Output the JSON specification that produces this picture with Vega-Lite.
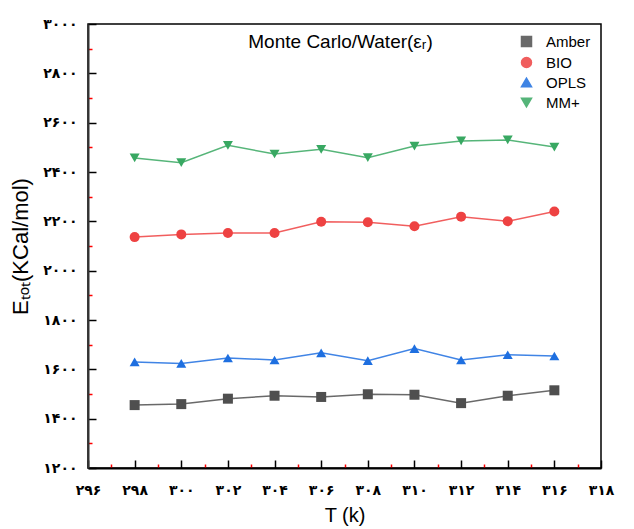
{
  "$schema": "https://vega.github.io/schema/vega-lite/v6.json",
  "width": 513,
  "height": 444,
  "padding": {"left": 9, "top": 17, "right": 5, "bottom": 5},
  "background": "white",
  "config": {
    "view": {"stroke": "black", "strokeWidth": 1.5},
    "font": "Liberation Sans"
  },
  "title": {
    "text": "Monte Carlo/Water(εᵣ)",
    "offset": -35,
    "fontSize": 19,
    "fontWeight": "normal",
    "font": "Liberation Sans",
    "anchor": "middle",
    "dx": -4,
    "color": "black"
  },
  "data": {
    "values": [
      {"series": "Amber", "T": 298, "E": 1455},
      {"series": "Amber", "T": 300, "E": 1459},
      {"series": "Amber", "T": 302, "E": 1481},
      {"series": "Amber", "T": 304, "E": 1493},
      {"series": "Amber", "T": 306, "E": 1488},
      {"series": "Amber", "T": 308, "E": 1499},
      {"series": "Amber", "T": 310, "E": 1497},
      {"series": "Amber", "T": 312, "E": 1463},
      {"series": "Amber", "T": 314, "E": 1493},
      {"series": "Amber", "T": 316, "E": 1515},
      {"series": "BIO", "T": 298, "E": 2136},
      {"series": "BIO", "T": 300, "E": 2147},
      {"series": "BIO", "T": 302, "E": 2153},
      {"series": "BIO", "T": 304, "E": 2153},
      {"series": "BIO", "T": 306, "E": 2198},
      {"series": "BIO", "T": 308, "E": 2196},
      {"series": "BIO", "T": 310, "E": 2180},
      {"series": "BIO", "T": 312, "E": 2219},
      {"series": "BIO", "T": 314, "E": 2200},
      {"series": "BIO", "T": 316, "E": 2240},
      {"series": "OPLS", "T": 298, "E": 1630},
      {"series": "OPLS", "T": 300, "E": 1624},
      {"series": "OPLS", "T": 302, "E": 1646},
      {"series": "OPLS", "T": 304, "E": 1638},
      {"series": "OPLS", "T": 306, "E": 1667},
      {"series": "OPLS", "T": 308, "E": 1635},
      {"series": "OPLS", "T": 310, "E": 1684},
      {"series": "OPLS", "T": 312, "E": 1638},
      {"series": "OPLS", "T": 314, "E": 1659},
      {"series": "OPLS", "T": 316, "E": 1654},
      {"series": "MM+", "T": 298, "E": 2457},
      {"series": "MM+", "T": 300, "E": 2438},
      {"series": "MM+", "T": 302, "E": 2508},
      {"series": "MM+", "T": 304, "E": 2473},
      {"series": "MM+", "T": 306, "E": 2492},
      {"series": "MM+", "T": 308, "E": 2458},
      {"series": "MM+", "T": 310, "E": 2505},
      {"series": "MM+", "T": 312, "E": 2526},
      {"series": "MM+", "T": 314, "E": 2530},
      {"series": "MM+", "T": 316, "E": 2501}
    ]
  },
  "layer": [
    {
      "mark": {"type": "line", "strokeWidth": 1.5, "opacity": 0.85},
      "encoding": {
        "x": {
          "field": "T", "type": "quantitative",
          "scale": {"domain": [296, 318], "nice": false, "zero": false},
          "axis": {
            "orient": "bottom", "values": [297, 299, 301, 303, 305, 307, 309, 311, 313, 315, 317],
            "labels": false, "domain": false, "grid": false, "title": null,
            "tickColor": "#ff0000", "tickSize": -4, "tickWidth": 1.5
          }
        },
        "y": {
          "field": "E", "type": "quantitative",
          "scale": {"domain": [1200, 3000], "nice": false, "zero": false},
          "axis": {
            "orient": "left", "values": [1300, 1500, 1700, 1900, 2100, 2300, 2500, 2700, 2900],
            "labels": false, "domain": false, "grid": false, "title": null,
            "tickColor": "#ff0000", "tickSize": -4, "tickWidth": 1.5
          }
        },
        "color": {
          "field": "series", "type": "nominal",
          "scale": {"domain": ["Amber", "BIO", "OPLS", "MM+"], "range": ["#4f4f4f", "#ee4242", "#1e6fe0", "#38a862"]}
        }
      }
    },
    {
      "mark": {"type": "point", "filled": true, "size": 100, "opacity": 1},
      "encoding": {
        "x": {
          "field": "T", "type": "quantitative",
          "scale": {"domain": [296, 318], "nice": false, "zero": false},
          "axis": {
            "orient": "bottom", "values": [296, 298, 300, 302, 304, 306, 308, 310, 312, 314, 316, 318],
            "format": "d",
            "labelExpr": "replace(replace(replace(replace(replace(replace(replace(replace(replace(replace(datum.label,regexp('0','g'),'۰'),regexp('1','g'),'۱'),regexp('2','g'),'۲'),regexp('3','g'),'۳'),regexp('4','g'),'۴'),regexp('5','g'),'۵'),regexp('6','g'),'۶'),regexp('7','g'),'۷'),regexp('8','g'),'۸'),regexp('9','g'),'۹')",
            "labelFont": "DejaVu Sans", "labelFontWeight": "bold", "labelFontSize": 14, "labelColor": "black",
            "labelPadding": 23, "labelFlush": false, "labelOverlap": false,
            "domain": true, "domainColor": "black", "domainWidth": 2, "grid": false,
            "tickColor": "black", "tickSize": -8, "tickWidth": 1.5,
            "title": "T (k)", "titleFont": "Liberation Sans", "titleFontSize": 20, "titleFontWeight": "normal",
            "titleColor": "black", "titlePadding": 8
          }
        },
        "y": {
          "field": "E", "type": "quantitative",
          "scale": {"domain": [1200, 3000], "nice": false, "zero": false},
          "axis": {
            "orient": "left", "values": [1200, 1400, 1600, 1800, 2000, 2200, 2400, 2600, 2800, 3000],
            "format": "d",
            "labelExpr": "replace(replace(replace(replace(replace(replace(replace(replace(replace(replace(datum.label,regexp('0','g'),'۰'),regexp('1','g'),'۱'),regexp('2','g'),'۲'),regexp('3','g'),'۳'),regexp('4','g'),'۴'),regexp('5','g'),'۵'),regexp('6','g'),'۶'),regexp('7','g'),'۷'),regexp('8','g'),'۸'),regexp('9','g'),'۹')",
            "labelFont": "DejaVu Sans", "labelFontWeight": "bold", "labelFontSize": 14, "labelColor": "black",
            "labelPadding": 19, "labelFlush": false, "labelOverlap": false,
            "domain": true, "domainColor": "#333333", "domainWidth": 2, "grid": false,
            "tickColor": "black", "tickSize": -8, "tickWidth": 1.5,
            "title": "Eₜₒₜ(KCal/mol)", "titleFont": "Liberation Sans", "titleFontSize": 22, "titleFontWeight": "normal",
            "titleColor": "black", "titlePadding": 10
          }
        },
        "color": {
          "field": "series", "type": "nominal",
          "scale": {"domain": ["Amber", "BIO", "OPLS", "MM+"], "range": ["#4f4f4f", "#ee4242", "#1e6fe0", "#38a862"]},
          "legend": {
            "title": null, "orient": "top-right", "offset": 10, "padding": 0,
            "labelFont": "Liberation Sans", "labelFontSize": 15, "labelColor": "black",
            "labelOffset": 12, "rowPadding": 4, "symbolSize": 100
          }
        },
        "shape": {
          "field": "series", "type": "nominal",
          "scale": {"domain": ["Amber", "BIO", "OPLS", "MM+"], "range": ["square", "circle", "triangle-up", "triangle-down"]},
          "legend": {
            "title": null, "orient": "top-right", "offset": 10, "padding": 0,
            "labelFont": "Liberation Sans", "labelFontSize": 15, "labelColor": "black",
            "labelOffset": 12, "rowPadding": 4, "symbolSize": 100
          }
        }
      }
    }
  ],
  "resolve": {
    "axis": {"x": "independent", "y": "independent"}
  }
}
